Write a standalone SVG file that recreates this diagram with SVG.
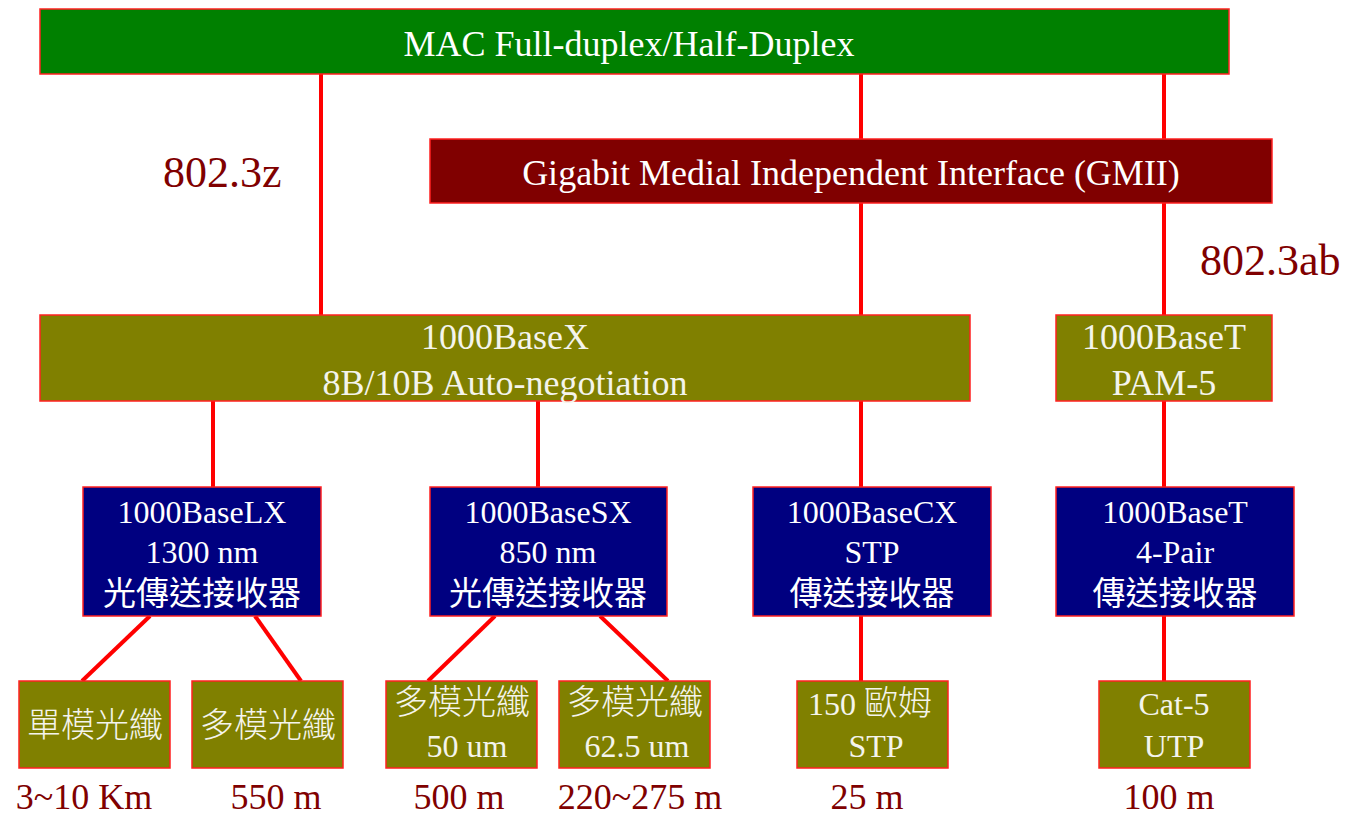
<svg xmlns="http://www.w3.org/2000/svg" width="1346" height="816" viewBox="0 0 1346 816">
<style>
.box{stroke:#ff2020;stroke-width:1.5}
.green{fill:#008000}.dred{fill:#800000}.olive{fill:#808000}.navy{fill:#000080}
text{font-family:"Liberation Serif","Noto Sans CJK TC",serif;text-anchor:middle}
.w{fill:#ffffff;font-size:36px}
.b{fill:#ffffff;font-size:32px}
.o{fill:#f4f4ec;font-size:32px}
.cjk{font-family:"Noto Sans CJK TC",sans-serif;font-size:33px}
.cjkl{font-family:"Noto Sans CJK TC",sans-serif;font-size:34px;font-weight:300}
.lbl{fill:#800000;font-size:36px}
.std{fill:#800000;font-size:44px;text-anchor:start}
.conn line{stroke:#ff0000;stroke-width:4}
</style>
<g id="connectors" class="conn">
<line x1="321" y1="74" x2="321" y2="315"/>
<line x1="861" y1="74" x2="861" y2="139"/>
<line x1="861" y1="203" x2="861" y2="315"/>
<line x1="1164" y1="74" x2="1164" y2="139"/>
<line x1="1164" y1="203" x2="1164" y2="315"/>
<line x1="213" y1="401" x2="213" y2="487"/>
<line x1="538" y1="401" x2="538" y2="487"/>
<line x1="861" y1="401" x2="861" y2="487"/>
<line x1="1164" y1="401" x2="1164" y2="487"/>
<line x1="150" y1="616" x2="82" y2="681"/>
<line x1="255" y1="616" x2="301" y2="681"/>
<line x1="495" y1="616" x2="428" y2="681"/>
<line x1="600" y1="616" x2="668" y2="681"/>
<line x1="861" y1="616" x2="861" y2="681"/>
<line x1="1164" y1="616" x2="1164" y2="681"/>
</g>
<g id="mac"><rect class="box green" x="40" y="9" width="1189" height="65"/><text class="w" x="629" y="56">MAC Full-duplex/Half-Duplex</text></g>
<g id="gmii"><rect class="box dred" x="430" y="139" width="842" height="64"/><text class="w" x="851" y="185">Gigabit Medial Independent Interface (GMII)</text></g>
<g id="l8023z"><text class="std" x="163" y="187">802.3z</text></g>
<g id="l8023ab"><text class="std" x="1200" y="275">802.3ab</text></g>
<g id="basex"><rect class="box olive" x="40" y="315" width="930" height="86"/><text class="o" style="font-size:36px" x="505" y="349">1000BaseX</text><text class="o" style="font-size:36px" x="505" y="395">8B/10B Auto-negotiation</text></g>
<g id="baset"><rect class="box olive" x="1056" y="315" width="216" height="86"/><text class="o" style="font-size:36px" x="1164" y="349">1000BaseT</text><text class="o" style="font-size:36px" x="1164" y="395">PAM-5</text></g>
<g id="lx"><rect class="box navy" x="83" y="487" width="238" height="129"/><text class="b" x="202" y="523">1000BaseLX</text><text class="b" x="202" y="563">1300 nm</text><text class="b cjk" x="202" y="605">光傳送接收器</text></g>
<g id="sx"><rect class="box navy" x="430" y="487" width="237" height="129"/><text class="b" x="548" y="523">1000BaseSX</text><text class="b" x="548" y="563">850 nm</text><text class="b cjk" x="548" y="605">光傳送接收器</text></g>
<g id="cx"><rect class="box navy" x="753" y="487" width="238" height="129"/><text class="b" x="872" y="523">1000BaseCX</text><text class="b" x="872" y="563">STP</text><text class="b cjk" x="872" y="605">傳送接收器</text></g>
<g id="t4"><rect class="box navy" x="1056" y="487" width="238" height="129"/><text class="b" x="1175" y="523">1000BaseT</text><text class="b" x="1175" y="563">4-Pair</text><text class="b cjk" x="1175" y="605">傳送接收器</text></g>
<g id="smf"><rect class="box olive" x="19" y="681" width="151" height="87"/><text class="o cjkl" x="95" y="737">單模光纖</text></g>
<g id="mmf1"><rect class="box olive" x="192" y="681" width="151" height="87"/><text class="o cjkl" x="268" y="737">多模光纖</text></g>
<g id="mmf50"><rect class="box olive" x="386" y="681" width="151" height="87"/><text class="o cjkl" x="462" y="714">多模光纖</text><text class="o" x="467" y="757">50 um</text></g>
<g id="mmf625"><rect class="box olive" x="559" y="681" width="151" height="87"/><text class="o cjkl" x="635" y="714">多模光纖</text><text class="o" x="637" y="757">62.5 um</text></g>
<g id="stp"><rect class="box olive" x="797" y="681" width="151" height="87"/><text class="o" x="870" y="715">150 <tspan class="cjkl">歐姆</tspan></text><text class="o" x="876" y="757">STP</text></g>
<g id="utp"><rect class="box olive" x="1099" y="681" width="151" height="87"/><text class="o" x="1174" y="715">Cat-5</text><text class="o" x="1174" y="757">UTP</text></g>
<g id="distances">
<text class="lbl" x="84" y="809">3~10 Km</text>
<text class="lbl" x="276" y="809">550 m</text>
<text class="lbl" x="459" y="809">500 m</text>
<text class="lbl" x="640" y="809">220~275 m</text>
<text class="lbl" x="867" y="809">25 m</text>
<text class="lbl" x="1169" y="809">100 m</text>
</g>
</svg>
